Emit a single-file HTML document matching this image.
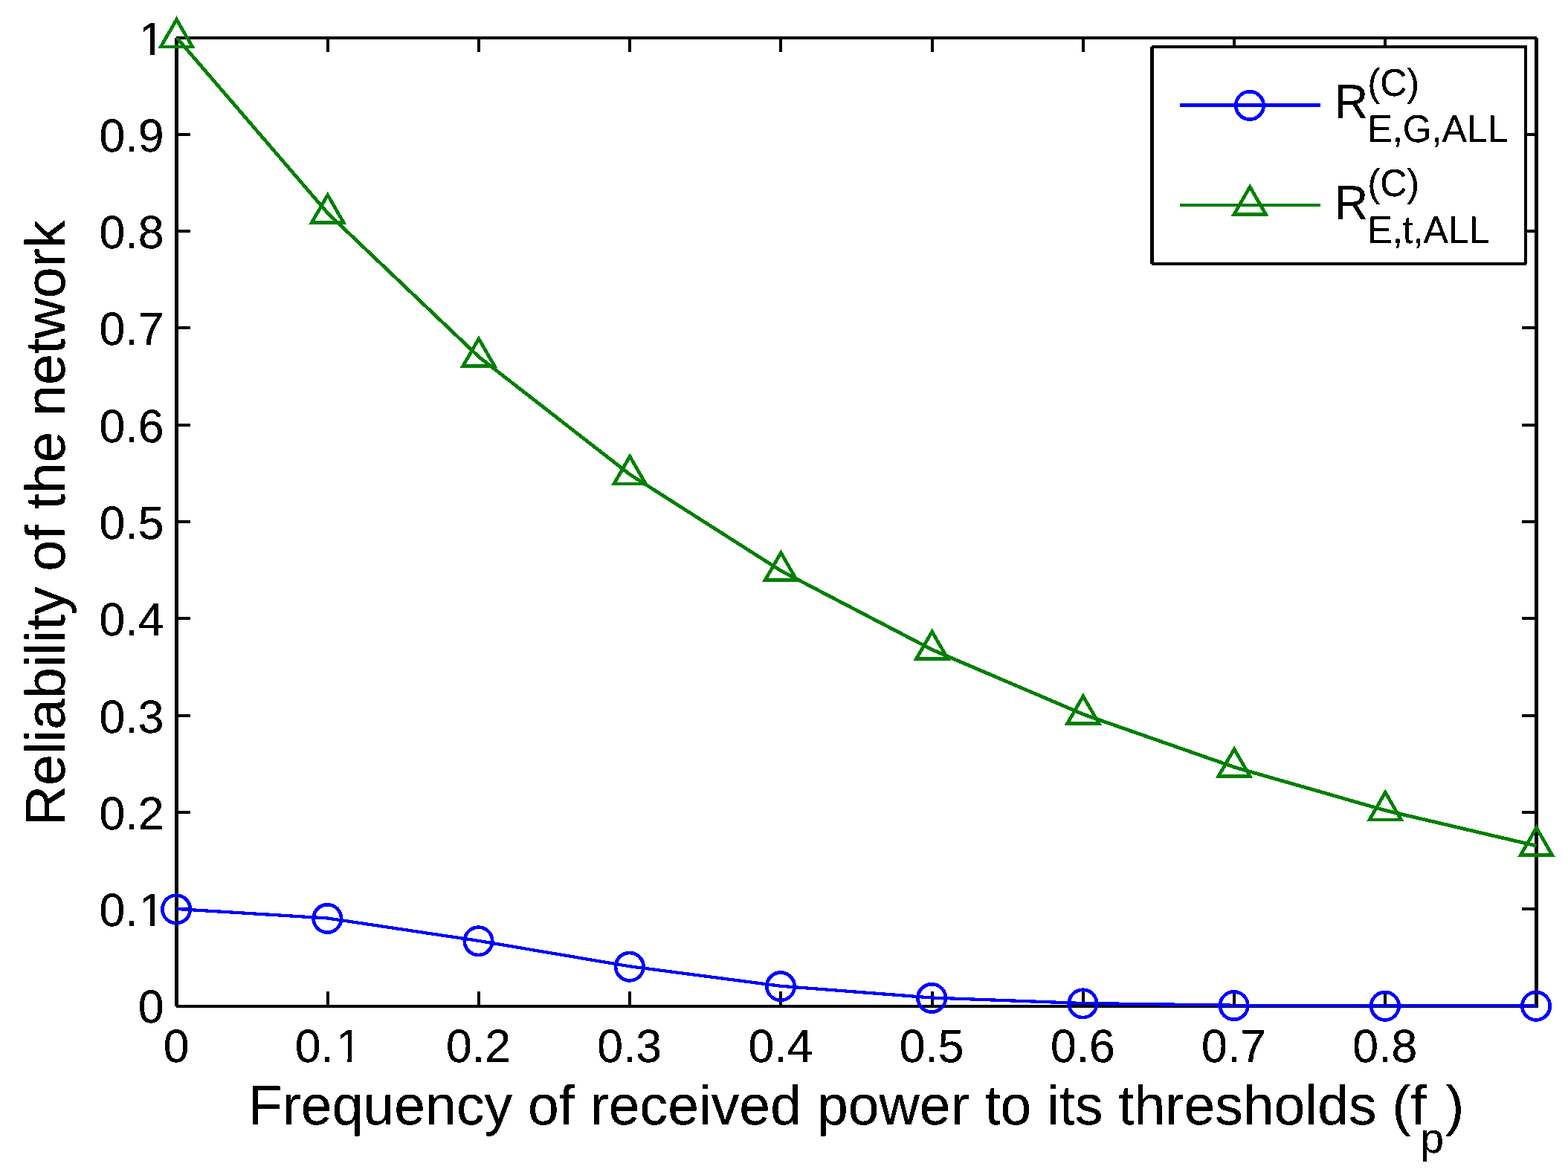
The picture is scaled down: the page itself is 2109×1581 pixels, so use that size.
<!DOCTYPE html>
<html lang="en">
<head>
<meta charset="utf-8">
<title>Reliability of the network</title>
<style>
html,body{margin:0;padding:0;background:#fff;}
body{width:2109px;height:1581px;overflow:hidden;}
svg{display:block;}
text{font-kerning:none;font-variant-ligatures:none;text-rendering:geometricPrecision;}
</style>
</head>
<body>
<svg width="2109" height="1581" viewBox="0 0 2109 1581" shape-rendering="crispEdges">
<rect x="0" y="0" width="2109" height="1581" fill="#ffffff"/>
<g stroke="#000" fill="none" stroke-linecap="butt">
<path d="M237,1354 H2066.5 M237,51 H2066.5 " stroke-width="4"/>
<path d="M237.5,51 V1354 M2066.5,51 V1356" stroke-width="5"/>
<path d="M441,1354 v-20 M441,51 v19 M644,1354 v-20 M644,51 v19 M847,1354 v-20 M847,51 v19 M1050,1354 v-20 M1050,51 v19 M1254,1354 v-20 M1254,51 v19 M1457,1354 v-20 M1457,51 v19 M1660,1354 v-20 M1660,51 v19 M1863,1354 v-20 M1863,51 v19 M237.5,1223 h18.5 M2066.5,1223 h-19.5 M237.5,1093 h18.5 M2066.5,1093 h-19.5 M237.5,963 h18.5 M2066.5,963 h-19.5 M237.5,832 h18.5 M2066.5,832 h-19.5 M237.5,702 h18.5 M2066.5,702 h-19.5 M237.5,572 h18.5 M2066.5,572 h-19.5 M237.5,441 h18.5 M2066.5,441 h-19.5 M237.5,311 h18.5 M2066.5,311 h-19.5 M237.5,181 h18.5 M2066.5,181 h-19.5" stroke-width="4"/>
</g>
<clipPath id="axclip"><rect x="237" y="51" width="1830" height="1306"/></clipPath>
<polyline points="237.50,1223.00 440.72,1235.50 643.94,1265.90 847.17,1300.30 1050.39,1326.80 1253.61,1342.50 1456.83,1350.00 1660.06,1352.70 1863.28,1353.30 2066.50,1353.30" fill="none" stroke="#0000ff" stroke-width="4.25" stroke-linejoin="round" clip-path="url(#axclip)"/>
<circle cx="237.10" cy="1223.40" r="18.7" fill="none" stroke="#0000ff" stroke-width="4.7"/>
<circle cx="440.32" cy="1235.90" r="18.7" fill="none" stroke="#0000ff" stroke-width="4.7"/>
<circle cx="643.54" cy="1266.30" r="18.7" fill="none" stroke="#0000ff" stroke-width="4.7"/>
<circle cx="846.77" cy="1300.70" r="18.7" fill="none" stroke="#0000ff" stroke-width="4.7"/>
<circle cx="1049.99" cy="1327.20" r="18.7" fill="none" stroke="#0000ff" stroke-width="4.7"/>
<circle cx="1253.21" cy="1342.90" r="18.7" fill="none" stroke="#0000ff" stroke-width="4.7"/>
<circle cx="1456.43" cy="1350.40" r="18.7" fill="none" stroke="#0000ff" stroke-width="4.7"/>
<circle cx="1659.66" cy="1353.10" r="18.7" fill="none" stroke="#0000ff" stroke-width="4.7"/>
<circle cx="1862.88" cy="1353.70" r="18.7" fill="none" stroke="#0000ff" stroke-width="4.7"/>
<circle cx="2066.10" cy="1353.70" r="18.7" fill="none" stroke="#0000ff" stroke-width="4.7"/>
<polyline points="237.50,50.50 440.72,286.69 643.94,480.07 847.17,638.40 1050.39,768.02 1253.61,874.15 1456.83,961.04 1660.06,1032.18 1863.28,1090.43 2066.50,1138.12" fill="none" stroke="#008000" stroke-width="4.8" stroke-linejoin="round" clip-path="url(#axclip)"/>
<polygon points="237.50,26.20 258.80,63.10 216.20,63.10" fill="none" stroke="#008000" stroke-width="4.7" stroke-linejoin="miter"/>
<polygon points="440.72,262.39 462.03,299.29 419.42,299.29" fill="none" stroke="#008000" stroke-width="4.7" stroke-linejoin="miter"/>
<polygon points="643.94,455.77 665.25,492.67 622.64,492.67" fill="none" stroke="#008000" stroke-width="4.7" stroke-linejoin="miter"/>
<polygon points="847.17,614.10 868.47,651.00 825.86,651.00" fill="none" stroke="#008000" stroke-width="4.7" stroke-linejoin="miter"/>
<polygon points="1050.39,743.72 1071.69,780.62 1029.08,780.62" fill="none" stroke="#008000" stroke-width="4.7" stroke-linejoin="miter"/>
<polygon points="1253.61,849.85 1274.92,886.75 1232.31,886.75" fill="none" stroke="#008000" stroke-width="4.7" stroke-linejoin="miter"/>
<polygon points="1456.83,936.74 1478.14,973.64 1435.53,973.64" fill="none" stroke="#008000" stroke-width="4.7" stroke-linejoin="miter"/>
<polygon points="1660.06,1007.88 1681.36,1044.78 1638.75,1044.78" fill="none" stroke="#008000" stroke-width="4.7" stroke-linejoin="miter"/>
<polygon points="1863.28,1066.13 1884.58,1103.03 1841.97,1103.03" fill="none" stroke="#008000" stroke-width="4.7" stroke-linejoin="miter"/>
<polygon points="2066.50,1113.82 2087.80,1150.72 2045.20,1150.72" fill="none" stroke="#008000" stroke-width="4.7" stroke-linejoin="miter"/>
<rect x="1549" y="63" width="503" height="292" fill="#fff"/>
<path d="M1549,63 H2052 M1549,355 H2053" stroke="#000" stroke-width="4" fill="none"/>
<path d="M1549.5,63 V355" stroke="#000" stroke-width="5" fill="none"/>
<path d="M2052,61 V355" stroke="#000" stroke-width="4" fill="none"/>
<line x1="1587" y1="141.5" x2="1776" y2="141.5" stroke="#0000ff" stroke-width="5"/>
<circle cx="1680.90" cy="141.90" r="18.7" fill="none" stroke="#0000ff" stroke-width="4.7"/>
<line x1="1587" y1="276" x2="1776" y2="276" stroke="#008000" stroke-width="4"/>
<polygon points="1681.20,251.40 1702.50,288.30 1659.90,288.30" fill="none" stroke="#008000" stroke-width="4.7" stroke-linejoin="miter"/>
<filter id="bw" x="0" y="0" width="2109" height="1581" filterUnits="userSpaceOnUse" color-interpolation-filters="sRGB"><feComponentTransfer><feFuncA type="discrete" tableValues="0 1 1"/></feComponentTransfer></filter>
<g font-family='"Liberation Sans", sans-serif' fill="#000" filter="url(#bw)">
<text transform="translate(1794.90,158.90) scale(1,1.035)" font-size="62.5">R</text><text transform="translate(1839.53,128.60) scale(1,1.035)" font-size="50">(C)</text><text transform="translate(1839.53,190.90) scale(1,1.035)" font-size="50">E,G,ALL</text>
<text transform="translate(1794.90,294.60) scale(1,1.035)" font-size="62.5">R</text><text transform="translate(1839.53,264.30) scale(1,1.035)" font-size="50">(C)</text><text transform="translate(1839.53,326.60) scale(1,1.035)" font-size="50">E,t,ALL</text>
<text transform="translate(220.50,1376.40) scale(1,1.005)" font-size="62.5" text-anchor="end">0</text>
<clipPath id="c3_11"><rect x="-10" y="-60" width="64.12" height="80"/><rect x="54.12" y="-60" width="50" height="55.2"/><rect x="68.94" y="-5.5" width="5.52" height="7"/></clipPath>
<g transform="translate(133.62,1246.10) scale(1,1.005)" clip-path="url(#c3_11)"><text font-size="62.5" dx="0 0 1.1">0.1</text></g>
<text transform="translate(220.50,1115.80) scale(1,1.005)" font-size="62.5" text-anchor="end">0.2</text>
<text transform="translate(220.50,985.50) scale(1,1.005)" font-size="62.5" text-anchor="end">0.3</text>
<text transform="translate(220.50,855.20) scale(1,1.005)" font-size="62.5" text-anchor="end">0.4</text>
<text transform="translate(220.50,724.90) scale(1,1.005)" font-size="62.5" text-anchor="end">0.5</text>
<text transform="translate(220.50,594.60) scale(1,1.005)" font-size="62.5" text-anchor="end">0.6</text>
<text transform="translate(220.50,464.30) scale(1,1.005)" font-size="62.5" text-anchor="end">0.7</text>
<text transform="translate(220.50,334.00) scale(1,1.005)" font-size="62.5" text-anchor="end">0.8</text>
<text transform="translate(220.50,203.70) scale(1,1.005)" font-size="62.5" text-anchor="end">0.9</text>
<clipPath id="c1_11"><rect x="-10" y="-60" width="12.00" height="80"/><rect x="2.00" y="-60" width="50" height="55.2"/><rect x="16.82" y="-5.5" width="5.52" height="7"/></clipPath>
<g transform="translate(185.74,74.00) scale(1,1.005)" clip-path="url(#c1_11)"><text font-size="62.5" dx="1.1">1</text></g>
<text transform="translate(237.00,1428.80) scale(1,1.005)" font-size="62.5" text-anchor="middle">0</text>
<clipPath id="c3_30"><rect x="-10" y="-60" width="64.12" height="80"/><rect x="54.12" y="-60" width="50" height="55.2"/><rect x="70.84" y="-5.5" width="5.52" height="7"/></clipPath>
<g transform="translate(396.78,1428.80) scale(1,1.005)" clip-path="url(#c3_30)"><text font-size="62.5" dx="0 0 3.0">0.1</text></g>
<text transform="translate(643.44,1428.80) scale(1,1.005)" font-size="62.5" text-anchor="middle">0.2</text>
<text transform="translate(846.67,1428.80) scale(1,1.005)" font-size="62.5" text-anchor="middle">0.3</text>
<text transform="translate(1049.89,1428.80) scale(1,1.005)" font-size="62.5" text-anchor="middle">0.4</text>
<text transform="translate(1253.11,1428.80) scale(1,1.005)" font-size="62.5" text-anchor="middle">0.5</text>
<text transform="translate(1456.33,1428.80) scale(1,1.005)" font-size="62.5" text-anchor="middle">0.6</text>
<text transform="translate(1659.56,1428.80) scale(1,1.005)" font-size="62.5" text-anchor="middle">0.7</text>
<text transform="translate(1862.78,1428.80) scale(1,1.005)" font-size="62.5" text-anchor="middle">0.8</text>
<text x="333.85" y="1513" font-size="75" letter-spacing="0.1">Frequency of received power to its thresholds (f<tspan font-size="56.5" dx="-8.1" dy="38" letter-spacing="0">p</tspan><tspan dx="2.3" dy="-38" letter-spacing="0">)</tspan></text>
<text transform="translate(86.8,1111.2) rotate(-90)" font-size="75" letter-spacing="0.06">Reliability of the network</text>
</g>
</svg>
</body>
</html>
